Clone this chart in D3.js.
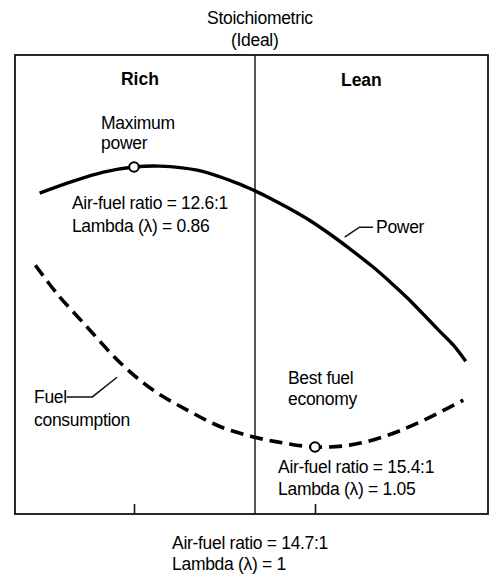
<!DOCTYPE html>
<html>
<head>
<meta charset="utf-8">
<script src="https://cdn.jsdelivr.net/npm/d3@7"></script>
<style>
  html, body { margin: 0; padding: 0; background: #fff; }
  svg { display: block; }
  text { font-family: "Liberation Sans", Arial, Helvetica, sans-serif; fill: #000; }
</style>
</head>
<body>
<svg id="chart" width="500" height="585"></svg>
<script>
// ---- Data (lambda on x, relative level 0–100 on y) ----
const powerLambda = [0.749, 0.785, 0.824, 0.86, 0.890, 0.933, 0.979, 1.000, 1.0125, 1.029, 1.046, 1.062, 1.078, 1.097, 1.111, 1.125, 1.137, 1.151, 1.162, 1.172];
const powerValue  = [69.9, 72.3, 74.5, 75.6, 75.8, 74.9, 72.1, 70.4, 68.8, 66.5, 63.9, 61.0, 57.8, 53.8, 50.5, 47.0, 43.7, 39.8, 36.8, 33.3];

const fuelLambda = [0.744, 0.769, 0.805, 0.844, 0.882, 0.921, 0.960, 0.998, 1.023, 1.05, 1.078, 1.105, 1.133, 1.170];
const fuelValue  = [54.2, 48.1, 40.7, 32.9, 27.0, 22.7, 19.0, 16.8, 15.5, 14.6, 15.0, 16.8, 19.8, 24.8];

const tickLambda = [0.86, 1.05];          // max power, best economy
const stoichLambda = 1.0;                   // divider
const maxPower = { lambda: 0.86, value: 75.6 };
const bestEconomy = { lambda: 1.05, value: 14.6 };

const powerLeader = [[1.074, 60.3], [1.086, 62.5], [1.097, 62.5]];
const fuelLeader  = [[0.840, 29.8], [0.811, 25.5], [0.781, 25.5]];

// label anchors (lambda, level) and their texts
const labels = [
  { t: "Stoichiometric", l: 0.9445, v: 106.8 },
  { t: "(Ideal)", l: 0.9722, v: 102.0 },
  { t: "Rich", l: 0.8447, v: 93.5, bold: true },
  { t: "Lean", l: 1.071, v: 93.2, bold: true },
  { t: "Maximum", l: 0.8212, v: 83.9 },
  { t: "power", l: 0.8212, v: 79.5 },
  { t: "Air-fuel ratio = 12.6:1", l: 0.787, v: 66.4 },
  { t: "Lambda (λ) = 0.86", l: 0.787, v: 61.4 },
  { t: "Power", l: 1.0994, v: 61.2 },
  { t: "Best fuel", l: 1.0275, v: 28.3 },
  { t: "economy", l: 1.0275, v: 23.7 },
  { t: "Air-fuel ratio = 15.4:1", l: 1.0192, v: 8.9 },
  { t: "Lambda (λ) = 1.05", l: 1.0192, v: 4.1 },
  { t: "Fuel", l: 0.7424, v: 24.2 },
  { t: "consumption", l: 0.7424, v: 19.2 },
  { t: "Air-fuel ratio = 14.7:1", l: 0.904, v: -7.6 },
  { t: "Lambda (λ) = 1", l: 0.904, v: -12.2 }
];

// ---- Scales ----
const x = d3.scaleLinear()
  .domain([0.72, 0.86, 1.0, 1.05, 1.19])
  .range([15, 134, 255, 315, 488]);
const y = d3.scaleLinear().domain([0, 100]).range([514, 55]);

const svg = d3.select("#chart");

// frame
svg.append("rect")
  .attr("x", x(0.72)).attr("y", y(100))
  .attr("width", x(1.19) - x(0.72)).attr("height", y(0) - y(100))
  .attr("fill", "none").attr("stroke", "#111").attr("stroke-width", 1.8);

// divider
svg.append("line")
  .attr("x1", x(stoichLambda)).attr("x2", x(stoichLambda))
  .attr("y1", y(100)).attr("y2", y(0))
  .attr("stroke", "#111").attr("stroke-width", 1.4);

// ticks (bottom axis)
const axis = d3.axisTop(x).tickValues(tickLambda).tickSize(10).tickFormat("");
const ag = svg.append("g").attr("transform", `translate(0,${y(0)})`).call(axis);
ag.select(".domain").remove();
ag.selectAll(".tick line").attr("stroke", "#111").attr("stroke-width", 1.6);

// curves
const line = d3.line().x(d => x(d[0])).y(d => y(d[1])).curve(d3.curveCatmullRom.alpha(0.5));

svg.append("path")
  .datum(powerLambda.map((l, i) => [l, powerValue[i]]))
  .attr("d", line)
  .attr("fill", "none").attr("stroke", "#000").attr("stroke-width", 3.4)
  .attr("stroke-linecap", "butt");

svg.append("path")
  .datum(fuelLambda.map((l, i) => [l, fuelValue[i]]))
  .attr("d", line)
  .attr("fill", "none").attr("stroke", "#000").attr("stroke-width", 3.6)
  .attr("stroke-dasharray", "13,7");

// leaders
const leader = d3.line().x(d => x(d[0])).y(d => y(d[1]));
[powerLeader, fuelLeader].forEach(p => {
  svg.append("path").attr("d", leader(p))
    .attr("fill", "none").attr("stroke", "#111").attr("stroke-width", 1.5);
});

// markers
[maxPower, bestEconomy].forEach(m => {
  svg.append("circle")
    .attr("cx", x(m.lambda)).attr("cy", y(m.value)).attr("r", 4.8)
    .attr("fill", "#fff").attr("stroke", "#000").attr("stroke-width", 2);
});

// labels
svg.append("g").selectAll("text").data(labels).join("text")
  .attr("x", d => x(d.l)).attr("y", d => y(d.v))
  .attr("font-size", 17.5)
  .attr("font-weight", d => d.bold ? "bold" : "normal")
  .attr("letter-spacing", d => d.bold ? "0" : "-0.3")
  .text(d => d.t);
</script>
</body>
</html>
